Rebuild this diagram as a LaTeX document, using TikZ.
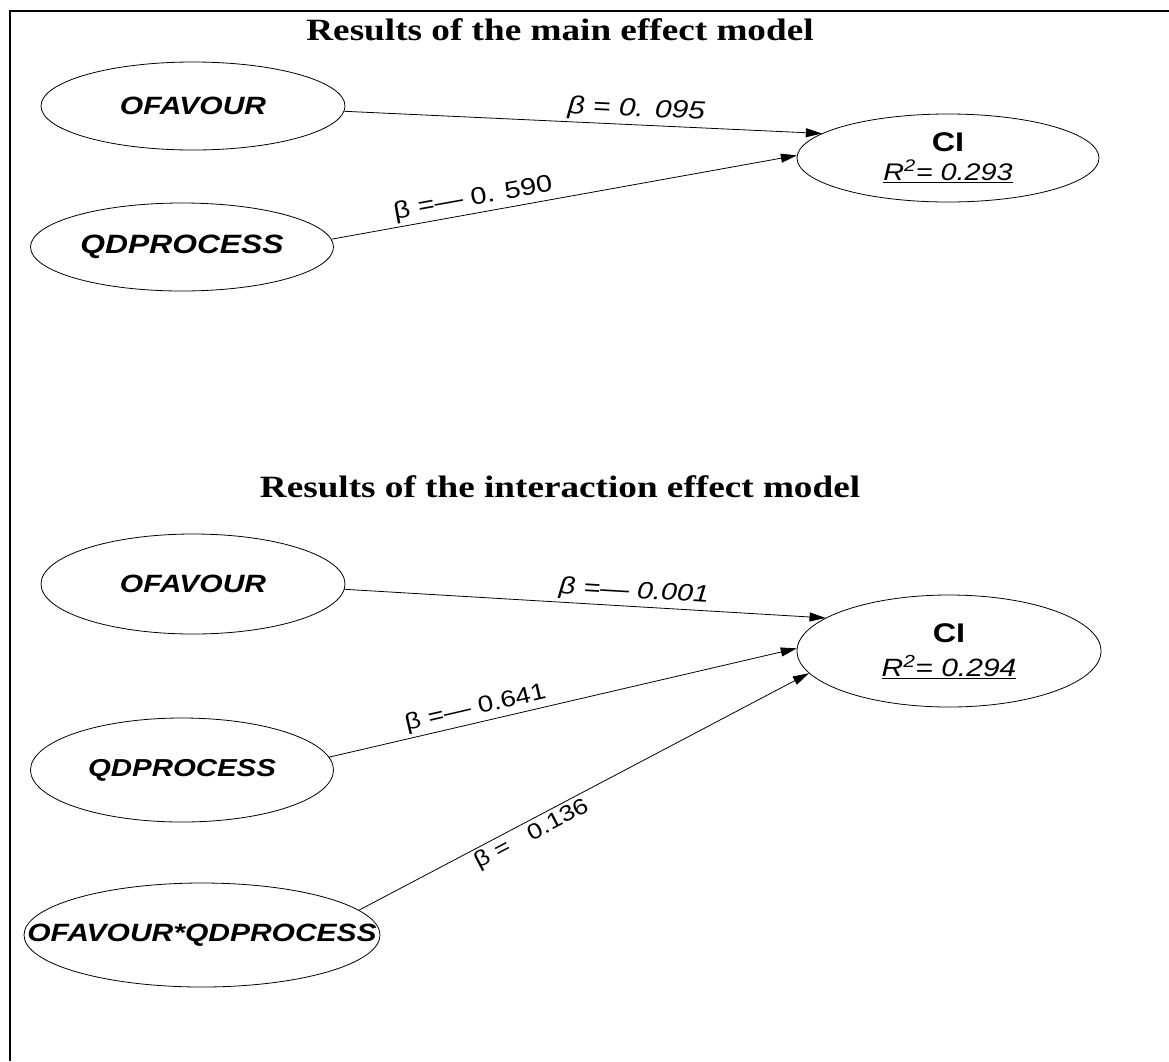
\documentclass[tikz,border=0pt]{standalone}
\usepackage{fontspec}
\setmainfont{Liberation Sans}[FakeStretch=1.2]
\newfontfamily\titlefont{Liberation Serif}[FakeStretch=1.2]
\usetikzlibrary{shapes.geometric,arrows.meta}
% text of fixed width zero, so the ellipse keeps the size given to it
\newcommand{\inner}[1]{\makebox[0pt]{#1}}
\begin{document}
\begin{tikzpicture}[x=1pt,y=-1pt,
  latent/.style={ellipse,draw,line width=0.8pt,inner sep=0pt,align=center},
  heading/.style={font=\titlefont\fontsize{31}{34}\selectfont\bfseries},
  path/.style={line width=0.8pt,-{Triangle[length=16pt,width=9pt]}},
  coef/.style={sloped,inner sep=3pt}]
\useasboundingbox (0,0) rectangle (1169,1061);
% frame
\draw[line width=2.4pt] (1169,11) -- (10,11) -- (10,1061);

% ---- main effect model ----
\node[heading] (t1) at (560,30) {Results of the main effect model};
\node[latent,minimum width=304,minimum height=88] (of1) at (193,106)
  {\inner{\fontsize{25}{28}\selectfont\bfseries\itshape OFAVOUR}};
\node[latent,minimum width=303,minimum height=88] (qd1) at (182,247)
  {\inner{\fontsize{26.5}{28}\selectfont\bfseries\itshape QDPROCESS}};
\node[latent,minimum width=302,minimum height=88,font=\fontsize{24}{29}\selectfont] (ci1) at (948,158)
  {\inner{\fontsize{27}{29}\selectfont\bfseries CI}\\
   \inner{\itshape\underline{R\textsuperscript{2}= 0.293}}};
\draw[path] (of1.-2.6) -- node[coef,above,pos=0.61,font=\fontsize{25}{28}\selectfont\itshape]{β = 0. 095} (ci1.169.6);
\draw[path] (qd1.3.8) -- node[coef,above,pos=0.31,font=\fontsize{24}{28}\selectfont]{β =— 0. 590} (ci1.179.6);

% ---- interaction effect model ----
\node[heading] (t2) at (560,487) {Results of the interaction effect model};
\node[latent,minimum width=304,minimum height=100] (of2) at (193,584)
  {\inner{\fontsize{25}{28}\selectfont\bfseries\itshape OFAVOUR}};
\node[latent,minimum width=303,minimum height=104] (qd2) at (182,770)
  {\inner{\fontsize{24.5}{28}\selectfont\bfseries\itshape QDPROCESS}};
\node[latent,minimum width=356,minimum height=104] (int2) at (202,935)
  {\inner{\fontsize{25}{28}\selectfont\bfseries\itshape OFAVOUR*QDPROCESS}};
\node[latent,minimum width=304,minimum height=112,font=\fontsize{25}{34}\selectfont] (ci2) at (949,651)
  {\inner{\fontsize{27}{29}\selectfont\bfseries CI}\\
   \inner{\itshape\underline{R\textsuperscript{2}= 0.294}}};
\draw[path] (of2.-2.4) -- node[coef,above,pos=0.6,font=\fontsize{24}{28}\selectfont\itshape]{β =— 0.001} (ci2.165.7);
\draw[path] (qd2.5.8) -- node[coef,above,pos=0.32,font=\fontsize{23}{28}\selectfont]{β =— 0.641} (ci2.179.6);
\draw[path] (int2.9.6) -- node[coef,below,pos=0.37,font=\fontsize{22}{28}\selectfont]{β =\ \ \ 0.136} (ci2.189.1);
\end{tikzpicture}
\end{document}
